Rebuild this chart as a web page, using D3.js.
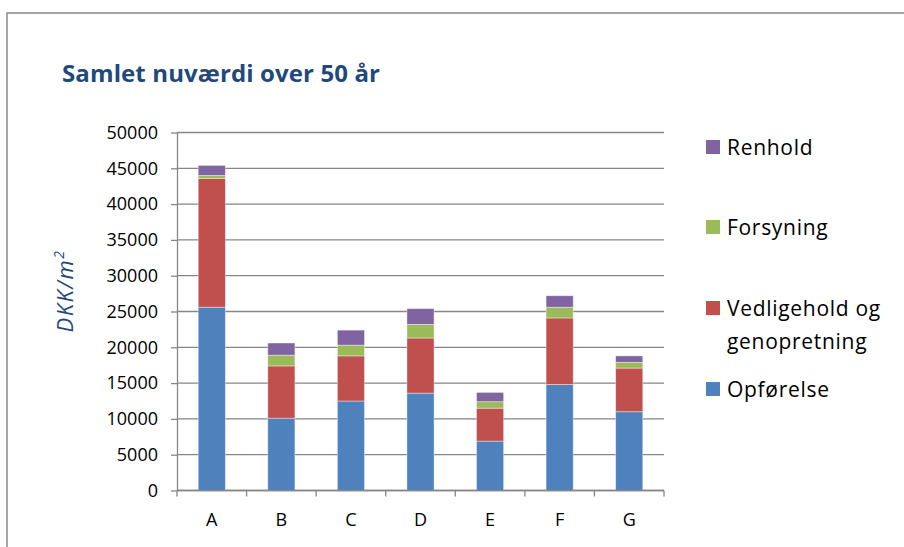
<!DOCTYPE html>
<html>
<head>
<meta charset="utf-8">
<script src="https://cdn.jsdelivr.net/npm/d3@7"></script>
<style>
  body { margin: 0; background: #fff; }
  svg { display: block; font-family: "Open Sans", Lato, sans-serif; }
</style>
</head>
<body>
<div id="chart"></div>
<script>
// data
const categories = ["A", "B", "C", "D", "E", "F", "G"];
const opforelse = [25600, 10100, 12500, 13600, 6900, 14800, 11000];
const vedligehold = [18000, 7300, 6300, 7700, 4600, 9300, 6100];
const forsyning = [400, 1500, 1500, 1900, 900, 1500, 800];
const renhold = [1400, 1700, 2100, 2200, 1300, 1600, 900];
const yTicks = [0, 5000, 10000, 15000, 20000, 25000, 30000, 35000, 40000, 45000, 50000];

const seriesNames = ["Opførelse", "Vedligehold og genopretning", "Forsyning", "Renhold"];
const seriesValues = [opforelse, vedligehold, forsyning, renhold];
const colors = ["#4f81bd", "#c0504d", "#9bbb59", "#8064a2"];

const width = 904, height = 547;
const plotLeft = 177, plotRight = 664, plotTop = 132.5, plotBottom = 490.5;

const svg = d3.select("#chart").append("svg")
  .attr("width", width)
  .attr("height", height);

// outer frame (only top and left edges show)
svg.append("rect")
  .attr("x", 7).attr("y", 13)
  .attr("width", 1000).attr("height", 1000)
  .attr("fill", "none")
  .attr("stroke", "#8a8a8a")
  .attr("stroke-width", 1.5);

// title
svg.append("text")
  .attr("x", 62).attr("y", 82)
  .attr("fill", "#1f497d")
  .attr("textLength", 318)
  .attr("lengthAdjust", "spacing")
  .style("font-size", "24px")
  .style("font-weight", "bold")
  .text("Samlet nuværdi over 50 år");

// scales
const x = d3.scaleBand()
  .domain(categories)
  .range([plotLeft, plotRight])
  .paddingInner(0.61)
  .paddingOuter(0.305);

const y = d3.scaleLinear()
  .domain([0, 50000])
  .range([plotBottom, plotTop]);

// gridlines
svg.append("g")
  .selectAll("line")
  .data(yTicks)
  .enter()
  .append("line")
  .attr("x1", plotLeft).attr("x2", plotRight)
  .attr("y1", d => y(d)).attr("y2", d => y(d))
  .attr("stroke", "#868686")
  .attr("stroke-width", 1.3);

// stacked bars
const table = categories.map((c, i) => {
  const row = { cat: c };
  seriesNames.forEach((s, j) => { row[s] = seriesValues[j][i]; });
  return row;
});
const stacked = d3.stack().keys(seriesNames)(table);

svg.append("g")
  .selectAll("g")
  .data(stacked)
  .enter()
  .append("g")
  .attr("fill", (d, i) => colors[i])
  .selectAll("rect")
  .data(d => d)
  .enter()
  .append("rect")
  .attr("x", d => x(d.data.cat))
  .attr("width", x.bandwidth())
  .attr("y", d => y(d[1]))
  .attr("height", d => y(d[0]) - y(d[1]))
  .attr("stroke", "#ffffff")
  .attr("stroke-opacity", 0.5)
  .attr("stroke-width", 0.8);

// y axis
const yAxis = svg.append("g")
  .attr("transform", "translate(" + plotLeft + ",0)")
  .call(d3.axisLeft(y).tickValues(yTicks).tickSize(6).tickSizeOuter(0).tickPadding(13).tickFormat(d3.format("d")));
yAxis.select(".domain").attr("stroke", "#868686").attr("stroke-width", 1.3);
yAxis.selectAll(".tick line").attr("stroke", "#868686").attr("stroke-width", 1.3);
yAxis.selectAll("text")
  .attr("fill", "#000")
  .style("font-family", "'Open Sans', sans-serif")
  .style("font-size", "18px");

// x axis with ticks between categories
const xAxisG = svg.append("g");
xAxisG.append("line")
  .attr("x1", plotLeft).attr("x2", plotRight)
  .attr("y1", plotBottom).attr("y2", plotBottom)
  .attr("stroke", "#868686")
  .attr("stroke-width", 1.3);
const step = x.step();
xAxisG.selectAll(".sep")
  .data(d3.range(categories.length + 1))
  .enter()
  .append("line")
  .attr("x1", i => plotLeft + i * step).attr("x2", i => plotLeft + i * step)
  .attr("y1", plotBottom).attr("y2", plotBottom + 6)
  .attr("stroke", "#868686")
  .attr("stroke-width", 1.3);
xAxisG.selectAll(".lab")
  .data(categories)
  .enter()
  .append("text")
  .attr("x", d => x(d) + x.bandwidth() / 2)
  .attr("y", 526)
  .attr("text-anchor", "middle")
  .style("font-size", "18px")
  .text(d => d);

// y axis title
const yTitle = svg.append("text")
  .attr("transform", "translate(73,291) rotate(-90)")
  .attr("text-anchor", "middle")
  .attr("fill", "#1f497d")
  .style("font-size", "22px")
  .style("letter-spacing", "1.5px")
  .style("font-style", "italic");
yTitle.append("tspan").text("DKK/m");
yTitle.append("tspan").attr("dy", -9).style("font-size", "14px").text("2");

// legend
const legendItems = [
  { lines: ["Renhold"], color: colors[3], y: 140 },
  { lines: ["Forsyning"], color: colors[2], y: 220 },
  { lines: ["Vedligehold og", "genopretning"], color: colors[1], y: 301 },
  { lines: ["Opførelse"], color: colors[0], y: 382 }
];
const legend = svg.append("g");
legendItems.forEach(item => {
  legend.append("rect")
    .attr("x", 706).attr("y", item.y)
    .attr("width", 14).attr("height", 14)
    .attr("fill", item.color);
  item.lines.forEach((line, k) => {
    legend.append("text")
      .attr("x", 727)
      .attr("y", item.y + 15 + k * 32.7)
      .style("font-size", "21px")
      .style("letter-spacing", "0.7px")
      .attr("fill", "#000")
      .text(line);
  });
});
</script>
</body>
</html>
